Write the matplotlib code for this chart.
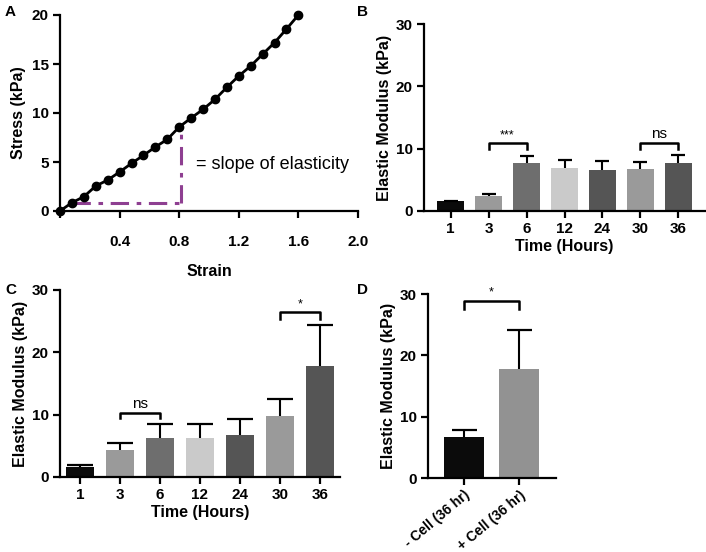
import matplotlib.pyplot as plt
import numpy as np

plt.rcParams['font.family'] = ['Liberation Sans', 'DejaVu Sans']

# Panel A: stress-strain curve
strain = [0.0, 0.08, 0.16, 0.24, 0.32, 0.40, 0.48, 0.56, 0.64, 0.72, 0.80,
          0.88, 0.96, 1.04, 1.12, 1.20, 1.28, 1.36, 1.44, 1.52, 1.60]
stress = [0.0, 0.85, 1.46, 2.55, 3.16, 3.98, 4.86, 5.68, 6.53, 7.31, 8.57,
          9.49, 10.37, 11.39, 12.62, 13.78, 14.8, 16.0, 17.18, 18.57, 20.0]

# Panel B / C: modulus over time
hours = ['1', '3', '6', '12', '24', '30', '36']
b_mean = [1.6, 2.4, 7.7, 6.9, 6.6, 6.7, 7.7]
b_err = [0.05, 0.4, 1.06, 1.3, 1.36, 1.1, 1.33]
c_mean = [1.6, 4.3, 6.3, 6.3, 6.74, 9.84, 17.75]
c_err = [0.4, 1.15, 2.26, 2.15, 2.62, 2.73, 6.65]
bar_colors = ['#0b0b0b', '#9a9a9a', '#6e6e6e', '#cacaca', '#555555', '#9a9a9a', '#555555']

# Panel D: with/without cells
d_labels = ['- Cell (36 hr)', '+ Cell (36 hr)']
d_mean = [6.76, 17.7]
d_err = [1.08, 6.5]
d_colors = ['#0b0b0b', '#929292']

fig = plt.figure(figsize=(7.06, 5.52), dpi=100)
W, H = 706, 552


def axes_px(left, top, right, bottom):
    return fig.add_axes([left / W, 1 - bottom / H, (right - left) / W, (bottom - top) / H])


def style(ax):
    for s in ['top', 'right']:
        ax.spines[s].set_visible(False)
    for s in ['left', 'bottom']:
        ax.spines[s].set_linewidth(1.6)
    ax.tick_params(width=1.6, length=5, labelsize=11, pad=3)
    for lab in ax.get_xticklabels() + ax.get_yticklabels():
        lab.set_fontweight('bold')


def bracket(ax, x1, x2, y, h, text, fs=10):
    ax.plot([x1, x1, x2, x2], [y - h, y, y, y - h], color='black', lw=1.8, clip_on=False)
    ax.text((x1 + x2) / 2, y + 0.3, text, ha='center', va='bottom', fontsize=fs)


def bar_panel(ax, means, errs, colors, xlim, cap):
    x = np.arange(len(means))
    tops = np.array(means) + np.array(errs)
    ax.bar(x, means, width=0.72, color=colors, zorder=2)
    # upper-only error bars
    ax.vlines(x, means, tops, color='black', lw=1.5, zorder=3)
    ax.plot(x, tops, ls='none', marker='_', ms=cap, mew=1.6, color='black', zorder=3)
    ax.set_xlim(*xlim)
    ax.set_ylim(0, 30)
    ax.set_yticks([0, 10, 20, 30])
    ax.set_ylabel('Elastic Modulus (kPa)', fontsize=11.5, fontweight='bold', labelpad=3)
    return x


# ---- A
axA = axes_px(60, 15, 358, 211)
axA.plot(strain, stress, color='black', lw=2, marker='o', ms=6, clip_on=False, zorder=3)
axA.plot([0.08, 0.815], [0.78, 0.78], color='#8e3f91', lw=2.2, ls='-.', dashes=(6, 2.5, 1.5, 2.5))
axA.plot([0.815, 0.815], [0.78, 8.3], color='#8e3f91', lw=2.2, ls='-.', dashes=(6, 2.5, 1.5, 2.5))
axA.text(0.91, 4.7, '= slope of elasticity', fontsize=13, va='center')
axA.set_xlim(0, 2.0)
axA.set_ylim(0, 20)
axA.set_xticks([0, 0.4, 0.8, 1.2, 1.6, 2.0])
axA.set_xticklabels(['', '0.4', '0.8', '1.2', '1.6', '2.0'])
axA.set_yticks([0, 5, 10, 15, 20])
axA.set_xlabel('Strain', fontsize=11.5, fontweight='bold', labelpad=11)
axA.set_ylabel('Stress (kPa)', fontsize=11.5, fontweight='bold', labelpad=4)
style(axA)
axA.tick_params(axis='x', pad=12)

# ---- B
axB = axes_px(424, 24, 705, 211)
xb = bar_panel(axB, b_mean, b_err, bar_colors, (-0.7, 6.7), cap=10)
axB.set_xticks(xb)
axB.set_xticklabels(hours)
axB.set_xlabel('Time (Hours)', fontsize=11.5, fontweight='bold', labelpad=2)
bracket(axB, 1, 2, 10.9, 1.0, '***', fs=9)
bracket(axB, 5, 6, 10.9, 1.0, 'ns', fs=11)
style(axB)

# ---- C
axC = axes_px(60, 290, 340, 477)
xc = bar_panel(axC, c_mean, c_err, bar_colors, (-0.5, 6.5), cap=19)
axC.set_xticks(xc)
axC.set_xticklabels(hours)
axC.set_xlabel('Time (Hours)', fontsize=11.5, fontweight='bold', labelpad=2)
bracket(axC, 1, 2, 10.3, 0.9, 'ns', fs=11)
bracket(axC, 5, 6, 26.4, 1.1, '*', fs=9)
style(axC)

# ---- D
axD = axes_px(428, 294, 556, 478)
xd = bar_panel(axD, d_mean, d_err, d_colors, (-0.65, 1.67), cap=18)
axD.set_xticks(xd)
style(axD)
axD.set_xticklabels(d_labels, rotation=40, ha='right', va='top', rotation_mode='anchor',
                    fontsize=10)
axD.tick_params(axis='x', pad=2)
bracket(axD, 0, 1, 28.9, 1.3, '*', fs=9)

for lbl, x, y in [('A', 5, 12), ('B', 357, 12), ('C', 5, 290), ('D', 357, 290)]:
    fig.text(x / W, 1 - y / H, lbl, fontsize=11, fontweight='bold', va='center', ha='left')

fig.savefig('out.png', dpi=100)
